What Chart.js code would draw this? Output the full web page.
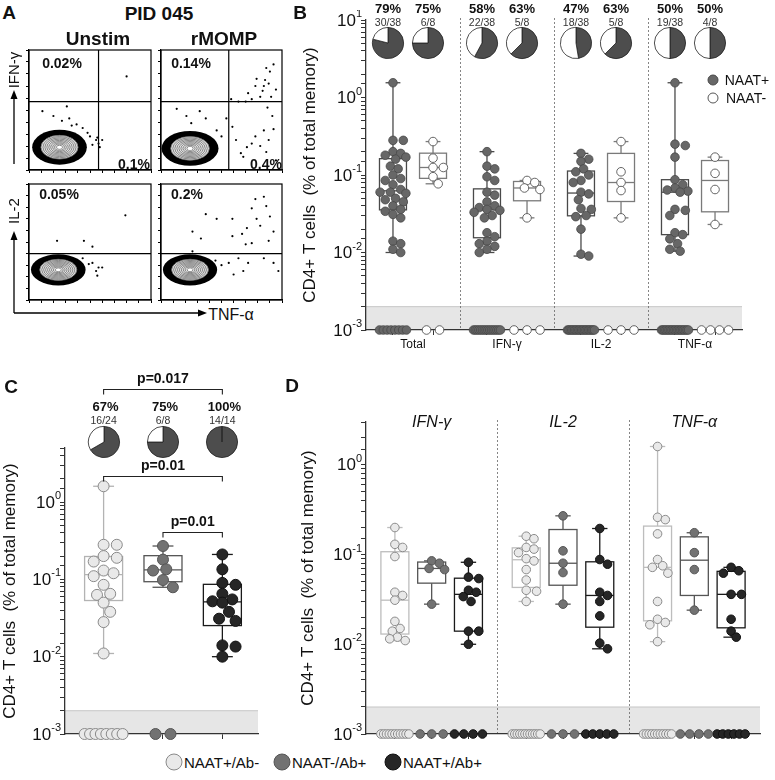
<!DOCTYPE html>
<html>
<head>
<meta charset="utf-8">
<script src="https://cdn.jsdelivr.net/npm/chart.js@4.4.1/dist/chart.umd.min.js"></script>
<style>
body { margin: 0; background: #fff; }
#fig { position: relative; width: 775px; height: 780px; overflow: hidden; font-family: 'Liberation Sans', Arial, sans-serif; color: #111; }
#fig canvas { position: absolute; }
.t { position: absolute; transform: translate(-50%, -50%); white-space: nowrap; line-height: 1; }
.dot { position: absolute; border-radius: 50%; box-sizing: border-box; transform: translate(-50%, -50%); }
</style>
</head>
<body>
<div id="fig">
<svg width="775" height="780" style="position:absolute;left:0;top:0">
  <g stroke="#000" stroke-width="1.3" fill="none">
    <line x1="14" y1="164" x2="14" y2="97"/>
    <line x1="14" y1="313" x2="14" y2="238"/>
    <line x1="14" y1="313" x2="200" y2="313"/>
  </g>
  <g fill="#000">
    <path d="M14 90 L10.5 99 L17.5 99 Z"/>
    <path d="M14 231 L10.5 240 L17.5 240 Z"/>
    <path d="M207 313 L198 309.5 L198 316.5 Z"/>
  </g>
</svg>
</div>
<script>
Chart.defaults.font.family = "'Liberation Sans', Arial, sans-serif";
Chart.defaults.color = '#111';
var fig = document.getElementById('fig');

// ---- panel A: flow plots (axes scaled 0-100)
var flowUnstimIfn = [[80,78],[11,49],[31,53],[20,45],[33,43],[35,37],[27,41],[48,31],[55,25],[57,22],[60,25],[52,21],[56,27],[44,35],[50,28],[39,38],[58,19]];
var flowMompIfn = [[13,51],[32,49],[21,45],[37,43],[25,39],[54,43],[59,36],[62,25],[71,19],[66,14],[75,22],[68,11],[46,33],[50,28],
  [58,59],[64,57],[70,57],[75,59],[79,76],[78,70],[86,75],[89,72],[85,70],[90,82],[84,66],[93,88],[82,61],[95,67],[87,85],[91,61],[72,64],
  [85,33],[89,25],[87,15],[93,34],[82,20],[95,8],[78,28],[92,45],[88,52]];
var flowUnstimIl2 = [[79,73],[23,51],[45,51],[52,46],[52,32],[57,28],[55,25],[60,28],[49,31],[56,21],[44,36],[40,33]];
var flowMompIl2 = [[26,59],[37,74],[33,53],[46,70],[59,70],[59,55],[67,57],[71,62],[75,79],[78,87],[79,70],[70,48],[75,49],[26,42],
  [85,89],[87,81],[90,72],[82,64],[93,59],[89,51],[85,36],[93,32],[97,25],[72,32],[64,36],[56,32],[68,25],[50,30],[45,34],[60,22]];
var flowDots = [flowUnstimIfn, flowMompIfn, flowUnstimIl2, flowMompIl2];
var flowBlobs = [[25,19,20,13],[24,18,21,13],[24,26,20,12],[24,26,20,12]];   // centre x, centre y, spread x, spread y
var flowGates = [[57,57],[56,57],[null,40],[null,40]];

// ---- panel B
var bCategories = ['Total', 'IFN-γ', 'IL-2', 'TNF-α'];
var bNaatPos = [
  [1.55,0.28,0.28,0.2,0.19,0.18,0.17,0.16,0.13,0.12,0.1,0.09,0.085,0.075,0.065,0.06,0.06,0.058,0.05,0.048,0.045,0.04,0.036,0.034,0.031,0.028,0.014,0.013,0.011,0.01],
  [0.2,0.13,0.12,0.095,0.085,0.06,0.055,0.045,0.04,0.038,0.036,0.035,0.033,0.03,0.028,0.018,0.016,0.014,0.013,0.012,0.011,0.01],
  [0.19,0.16,0.15,0.12,0.11,0.1,0.085,0.08,0.06,0.057,0.048,0.037,0.036,0.03,0.029,0.02,0.0095,0.009],
  [1.55,0.25,0.24,0.17,0.087,0.075,0.068,0.064,0.062,0.06,0.036,0.035,0.03,0.018,0.017,0.015,0.013,0.011,0.0104]
];
var bNaatPosZeros = [8, 16, 20, 19];
var bNaatNeg = [
  [0.27,0.165,0.125,0.125,0.095,0.077],
  [0.085,0.08,0.068,0.065,0.028],
  [0.27,0.11,0.08,0.063,0.028],
  [0.17,0.105,0.065,0.023]
];
var bNaatNegZeros = [2, 3, 3, 4];

// ---- panel C
var cGroups = ['NAAT+/Ab-', 'NAAT-/Ab+', 'NAAT+/Ab+'];
var cValues = [
  [1.6,0.28,0.28,0.2,0.19,0.17,0.13,0.12,0.11,0.085,0.065,0.063,0.05,0.038,0.028,0.011],
  [0.27,0.18,0.135,0.13,0.098,0.079],
  [0.21,0.135,0.09,0.085,0.065,0.055,0.052,0.05,0.038,0.031,0.029,0.014,0.0135,0.01]
];
var cZeros = [8, 2, 0];
var cTests = [['p=0.017', 0, 2], ['p=0.01', 0, 2], ['p=0.01', 1, 2]];
var cTestLevels = [29, 2.2, 0.41];

// ---- panel D
var dCytokines = ['IFN-γ', 'IL-2', 'TNF-α'];
var dNaatPosAbNeg = [
  [0.2,0.13,0.12,0.095,0.038,0.035,0.031,0.018,0.015,0.014,0.012,0.0115,0.011],
  [0.16,0.15,0.12,0.115,0.105,0.09,0.085,0.068,0.052,0.04,0.039,0.03],
  [1.6,0.26,0.245,0.17,0.088,0.075,0.072,0.062,0.03,0.019,0.0175,0.0165,0.0107]
];
var dNaatPosAbNegZeros = [11, 12, 11];
var dNaatNegAbPos = [
  [0.085,0.08,0.07,0.068,0.028],
  [0.27,0.11,0.08,0.063,0.028],
  [0.175,0.105,0.068,0.024]
];
var dNaatNegAbPosZeros = [3, 3, 4];
var dNaatPosAbPos = [
  [0.082,0.056,0.054,0.04,0.038,0.034,0.03,0.014,0.014,0.01],
  [0.195,0.088,0.078,0.038,0.035,0.03,0.0207,0.0103,0.0089],
  [0.072,0.066,0.062,0.036,0.036,0.019,0.014,0.012]
];
var dNaatPosAbPosZeros = [4, 5, 6];

var styles = {
  bPos:  { fill: '#676767', edge: '#474747', bw: 0.8, r: 4.3, box: '#4a4a4a', gap: 13 },
  bNeg:  { fill: '#ffffff', edge: '#555555', bw: 0.9, r: 4.3, box: '#7a7a7a', gap: 13 },
  light: { fill: '#e9e9e9', edge: '#8a8a8a', bw: 1, r: 5.5, box: '#b3b3b3', gap: 15 },
  mid:   { fill: '#727272', edge: '#555555', bw: 1, r: 5.5, box: '#555555', gap: 15 },
  dark:  { fill: '#262626', edge: '#111111', bw: 1, r: 5.5, box: '#1a1a1a', gap: 15 }
};
var yTitle = 'CD4+ T cells  (% of total memory)';

function txt(s, x, y, css) {
  var d = document.createElement('div');
  d.className = 't';
  d.textContent = s;
  d.style.left = x + 'px';
  d.style.top = y + 'px';
  if (css) d.style.cssText += css;
  fig.appendChild(d);
  return d;
}
function dot(x, y, r, fill, edge) {
  var d = document.createElement('div');
  d.className = 'dot';
  d.style.cssText += 'left:' + x + 'px;top:' + y + 'px;width:' + 2 * r + 'px;height:' + 2 * r + 'px;background:' + fill + ';border:1px solid ' + edge;
  fig.appendChild(d);
}
function makeCanvas(left, top, w, h) {
  var c = document.createElement('canvas');
  c.width = w; c.height = h;
  c.style.left = left + 'px'; c.style.top = top + 'px';
  fig.appendChild(c);
  return c;
}
function seg(ctx, x1, y1, x2, y2) {
  ctx.beginPath(); ctx.moveTo(x1, y1); ctx.lineTo(x2, y2); ctx.stroke();
}
function quant(s, p) {
  var pos = (s.length + 1) * p, lo = Math.floor(pos), f = pos - lo;
  if (lo < 1) return s[0];
  if (lo >= s.length) return s[s.length - 1];
  return s[lo - 1] + f * (s[lo] - s[lo - 1]);
}

// ---- plugins
var flowPlugin = {
  id: 'flow',
  beforeDatasetsDraw: function (chart, args, o) {
    var ctx = chart.ctx, x = chart.scales.x, y = chart.scales.y, b = o.blob;
    var cx = x.getPixelForValue(b[0]), cy = y.getPixelForValue(b[1]);
    var rx = x.getPixelForValue(b[0] + b[2]) - cx, ry = cy - y.getPixelForValue(b[1] + b[3]);
    function ell(k) { ctx.beginPath(); ctx.ellipse(cx, cy, rx * k, ry * k, 0, 0, Math.PI * 2); }
    ctx.save();
    ctx.fillStyle = '#000'; ell(1.12); ctx.fill();
    ctx.fillStyle = '#e2e2e2'; ell(0.76); ctx.fill();
    ctx.strokeStyle = '#707070'; ctx.lineWidth = 0.8;
    for (var k = 0.76; k > 0.1; k -= 0.08) { ell(k); ctx.stroke(); }
    ctx.fillStyle = '#fff'; ell(0.1); ctx.fill();
    ctx.restore();
  },
  afterDatasetsDraw: function (chart, args, o) {
    var ctx = chart.ctx, a = chart.chartArea, x = chart.scales.x, y = chart.scales.y;
    ctx.save();
    ctx.strokeStyle = '#000'; ctx.lineWidth = 1.2;
    ctx.strokeRect(a.left, a.top, a.right - a.left, a.bottom - a.top);
    if (o.gate[0] !== null) { var gx = x.getPixelForValue(o.gate[0]); seg(ctx, gx, a.top, gx, a.bottom); }
    var gy = y.getPixelForValue(o.gate[1]); seg(ctx, a.left, gy, a.right, gy);
    ctx.restore();
  }
};

var bandPlugin = {
  id: 'band',
  beforeDraw: function (chart, args, o) {
    var ctx = chart.ctx, a = chart.chartArea, x = chart.scales.x, y = chart.scales.y;
    var yb = y.getPixelForValue(y.min), yt = y.getPixelForValue(o.limit);
    ctx.save();
    ctx.fillStyle = '#e6e6e6';
    ctx.fillRect(a.left, yt, a.right - a.left, yb - yt);
    ctx.strokeStyle = '#c6c6c6'; ctx.lineWidth = 1;
    seg(ctx, a.left, yt, a.right, yt);
    ctx.strokeStyle = '#666'; ctx.lineWidth = 0.8; ctx.setLineDash([2, 2]);
    (o.separators || []).forEach(function (v) {
      var px = Math.round(x.getPixelForValue(v)) + 0.5;
      seg(ctx, px, a.top - 2, px, a.bottom);
    });
    ctx.restore();
  }
};

var boxPlugin = {
  id: 'boxes',
  beforeDatasetsDraw: function (chart) {
    var ctx = chart.ctx, x = chart.scales.x, y = chart.scales.y;
    chart.data.datasets.forEach(function (ds) {
      var s = ds.detected.slice().sort(function (a, b) { return a - b; });
      var q1 = quant(s, 0.25), med = quant(s, 0.5), q3 = quant(s, 0.75);
      var lo = s[0], hi = s[s.length - 1];
      var cx = x.getPixelForValue(ds.center);
      var hw = x.getPixelForValue(ds.center + ds.boxWidth / 2) - cx;
      var py = function (v) { return y.getPixelForValue(v); };
      var cw = hw * 0.55;
      ctx.save();
      ctx.strokeStyle = ds.boxColor; ctx.lineWidth = 1.3;
      ctx.strokeRect(cx - hw, py(q3), 2 * hw, py(q1) - py(q3));
      seg(ctx, cx - hw, py(med), cx + hw, py(med));
      seg(ctx, cx, py(q3), cx, py(hi));
      seg(ctx, cx, py(q1), cx, py(lo));
      seg(ctx, cx - cw, py(hi), cx + cw, py(hi));
      seg(ctx, cx - cw, py(lo), cx + cw, py(lo));
      ctx.restore();
    });
  }
};

var decadePlugin = {
  id: 'decades',
  afterDraw: function (chart) {
    var ctx = chart.ctx, y = chart.scales.y;
    var xr = y.right - 4;
    ctx.save();
    ctx.fillStyle = '#111'; ctx.textBaseline = 'middle'; ctx.textAlign = 'left';
    for (var e = Math.round(Math.log10(y.min)); e <= Math.floor(Math.log10(y.max) + 1e-9); e++) {
      var py = y.getPixelForValue(Math.pow(10, e));
      var exp = String(e);
      ctx.font = "11px 'Liberation Sans', Arial";
      var ew = ctx.measureText(exp).width;
      ctx.fillText(exp, xr - ew, py - 6);
      ctx.font = "17px 'Liberation Sans', Arial";
      var bw = ctx.measureText('10').width;
      ctx.fillText('10', xr - ew - bw, py + 1);
    }
    ctx.restore();
  }
};

var bracketPlugin = {
  id: 'brackets',
  afterDraw: function (chart, args, o) {
    var ctx = chart.ctx, x = chart.scales.x, y = chart.scales.y;
    ctx.save();
    ctx.strokeStyle = '#222'; ctx.lineWidth = 1.1; ctx.fillStyle = '#111';
    ctx.font = "bold 14px 'Liberation Sans', Arial";
    ctx.textAlign = 'center'; ctx.textBaseline = 'bottom';
    o.items.forEach(function (it, i) {
      var x1 = x.getPixelForValue(it[1]), x2 = x.getPixelForValue(it[2]);
      var py = Math.round(y.getPixelForValue(o.levels[i])) + 0.5;
      ctx.beginPath(); ctx.moveTo(x1, py + 5); ctx.lineTo(x1, py); ctx.lineTo(x2, py); ctx.lineTo(x2, py + 5); ctx.stroke();
      ctx.fillText(it[0], (x1 + x2) / 2, py - 3);
    });
    ctx.restore();
  }
};

function layoutPoints(chart) {
  var xs = chart.scales.x, ys = chart.scales.y;
  chart.data.datasets.forEach(function (ds) {
    var cx = xs.getPixelForValue(ds.center);
    var half = xs.getPixelForValue(ds.center + ds.boxWidth / 2) - cx;
    var r = ds.pointRadius, minD = 2 * r * 0.92, step = r * 0.6;
    var placed = [], pts = [];
    ds.detected.slice().sort(function (a, b) { return b - a; }).forEach(function (v) {
      var py = ys.getPixelForValue(v);
      var pick = 0, worst = Infinity;
      for (var k = 0; k < 200; k++) {
        var off = k === 0 ? 0 : (k % 2 ? 1 : -1) * Math.ceil(k / 2) * step;
        if (Math.abs(off) > half) break;
        var ov = 0;
        placed.forEach(function (p) {
          var d = Math.hypot(p[0] - off, p[1] - py);
          if (d < minD) ov = Math.max(ov, minD - d);
        });
        if (ov === 0) { pick = off; break; }
        if (ov < worst) { worst = ov; pick = off; }
      }
      placed.push([pick, py]);
      pts.push({ x: xs.getValueForPixel(cx + pick), y: v });
    });
    var n = ds.zeros;
    var sp = n > 1 ? Math.min(2 * half / (n - 1), ds.zeroGap) : 0;
    for (var i = 0; i < n; i++) pts.push({ x: xs.getValueForPixel(cx + (i - (n - 1) / 2) * sp), y: ys.min });
    ds.data = pts;
  });
  chart.update('none');
}

function boxSet(values, zeros, center, width, st) {
  return {
    data: [], detected: values, zeros: zeros, center: center, boxWidth: width,
    boxColor: st.box, zeroGap: st.gap, clip: false,
    pointRadius: st.r, pointHoverRadius: st.r,
    pointBackgroundColor: st.fill, pointBorderColor: st.edge, pointBorderWidth: st.bw
  };
}

function logY(min, max, width) {
  return {
    type: 'logarithmic', min: min, max: max,
    afterFit: function (s) { s.width = width; s.paddingTop = 0; s.paddingBottom = 0; },
    ticks: { autoSkip: false, callback: function () { return ''; } },
    grid: { drawOnChartArea: false, tickLength: 5, tickColor: '#333', tickWidth: 1 },
    border: { color: '#333', width: 1.3 },
    title: { display: true, text: yTitle, font: { size: 17 }, color: '#111', padding: { top: 0, bottom: 0 } }
  };
}
function linX(min, max, height, centers, labelFn, labelOffset) {
  return {
    type: 'linear', min: min, max: max,
    afterFit: function (s) { s.height = height; s.paddingLeft = 0; s.paddingRight = 0; },
    afterBuildTicks: function (s) { s.ticks = centers.map(function (v) { return { value: v }; }); },
    ticks: { autoSkip: false, maxRotation: 0, minRotation: 0, labelOffset: labelOffset || 0, padding: 2,
      font: { size: 12 }, color: '#111', callback: labelFn || function () { return ''; } },
    grid: { drawOnChartArea: false, tickLength: 5, tickColor: '#333', tickWidth: 1 },
    border: { color: '#333', width: 1.3 }
  };
}
function baseOptions(padding, xScale, yScale, extra) {
  var plugins = { legend: { display: false }, tooltip: { enabled: false } };
  for (var k in extra) plugins[k] = extra[k];
  return { responsive: false, animation: false, events: [], layout: { padding: padding },
    plugins: plugins, scales: { x: xScale, y: yScale } };
}

function pie(x, y, pos, total) {
  var c = makeCanvas(x - 17, y - 17, 34, 34);
  new Chart(c, {
    type: 'pie',
    data: { datasets: [{ data: [pos, total - pos], backgroundColor: ['#4d4d4d', '#ffffff'], borderColor: '#222', borderWidth: 0.8 }] },
    options: { responsive: false, animation: false, events: [], layout: { padding: 1 },
      plugins: { legend: { display: false }, tooltip: { enabled: false } } }
  });
}
function pct(pos, total) { return Math.round(100 * pos / total) + '%'; }

// ---- A
var flowAreas = [[29, 48, 153, 170], [161, 48, 284, 170], [29, 182, 153, 300], [161, 182, 284, 300]];
function flowAxis(horizontal) {
  return {
    type: 'linear', min: 0, max: 100,
    afterFit: function (s) {
      if (horizontal) s.height = 6; else s.width = 6;
      s.paddingLeft = s.paddingRight = s.paddingTop = s.paddingBottom = 0;
    },
    ticks: { display: false, stepSize: 10 },
    grid: { drawOnChartArea: false, tickLength: 3, tickColor: '#000' },
    border: { color: '#000', width: 1.2 }
  };
}
flowAreas.forEach(function (ar, i) {
  var c = makeCanvas(ar[0] - 6, ar[1] - 2, ar[2] - ar[0] + 8, ar[3] - ar[1] + 8);
  new Chart(c, {
    type: 'scatter',
    data: { datasets: [{ data: flowDots[i].map(function (p) { return { x: p[0], y: p[1] }; }),
      pointRadius: 1.1, pointBackgroundColor: '#000', pointBorderWidth: 0 }] },
    options: baseOptions({ top: 2, right: 2, left: 0, bottom: 0 }, flowAxis(true), flowAxis(false),
      { flow: { blob: flowBlobs[i], gate: flowGates[i] } }),
    plugins: [flowPlugin]
  });
});
txt('A', 9, 12, 'font-weight:bold;font-size:19px');
txt('PID 045', 159, 13, 'font-weight:bold;font-size:19px');
txt('Unstim', 98, 38, 'font-weight:bold;font-size:19px');
txt('rMOMP', 224, 38, 'font-weight:bold;font-size:19px');
var bold14 = 'font-weight:bold;font-size:14px';
txt('0.02%', 62, 63, bold14);
txt('0.1%', 134, 164, bold14);
txt('0.14%', 191, 63, bold14);
txt('0.4%', 266, 164, bold14);
txt('0.05%', 59, 194, bold14);
txt('0.2%', 187, 194, bold14);
txt('IFN-γ', 13, 70, 'font-size:15px;transform:translate(-50%,-50%) rotate(-90deg)');
txt('IL-2', 13, 211, 'font-size:15px;transform:translate(-50%,-50%) rotate(-90deg)');
txt('TNF-α', 231, 315, 'font-size:16px');

// ---- B
var bLeft = 300, bTop = 10;
var bSets = [], bCenters = [];
bCategories.forEach(function (c, i) {
  bSets.push(boxSet(bNaatPos[i], bNaatPosZeros[i], i + 0.5 - 0.213, 0.287, styles.bPos));
  bSets.push(boxSet(bNaatNeg[i], bNaatNegZeros[i], i + 0.5 + 0.213, 0.287, styles.bNeg));
  bCenters.push(i + 0.5 - 0.213, i + 0.5 + 0.213);
});
var bChart = new Chart(makeCanvas(bLeft, bTop, 460, 360), {
  type: 'scatter',
  data: { datasets: bSets },
  options: baseOptions({ top: 10, right: 18, left: 0, bottom: 0 },
    linX(0, 4, 40, bCenters, function (v, i) { return i % 2 === 0 ? bCategories[i / 2] : ''; }, 20),
    logY(0.001, 10, 66),
    { band: { limit: 0.002, separators: [1, 2, 3] } }),
  plugins: [bandPlugin, boxPlugin, decadePlugin]
});
layoutPoints(bChart);
bSets.forEach(function (ds) {
  var px = bLeft + bChart.scales.x.getPixelForValue(ds.center) - 5;
  var n = ds.detected.length, tot = n + ds.zeros;
  pie(px, 43, n, tot);
  txt(pct(n, tot), px, 8, 'font-weight:bold;font-size:13px');
  txt(n + '/' + tot, px, 22, 'font-size:10.5px;color:#333');
});
txt('B', 300, 12, 'font-weight:bold;font-size:19px');
dot(713, 80, 5.5, styles.bPos.fill, styles.bPos.edge);
txt('NAAT+', 747, 80, 'font-size:14px');
dot(713, 98, 5.5, styles.bNeg.fill, styles.bNeg.edge);
txt('NAAT-', 746, 98, 'font-size:14px');

// ---- C
var cLeft = 0, cTop = 360;
var cStyles = [styles.light, styles.mid, styles.dark];
var cSets = cGroups.map(function (g, i) { return boxSet(cValues[i], cZeros[i], i, 0.64, cStyles[i]); });
var cChart = new Chart(makeCanvas(cLeft, cTop, 265, 390), {
  type: 'scatter',
  data: { datasets: cSets },
  options: baseOptions({ top: 88, right: 7, left: 0, bottom: 0 },
    linX(-0.65, 2.6, 16, [0, 1, 2]),
    logY(0.001, 5, 65),
    { band: { limit: 0.002 }, brackets: { items: cTests, levels: cTestLevels } }),
  plugins: [bandPlugin, boxPlugin, decadePlugin, bracketPlugin]
});
layoutPoints(cChart);
cSets.forEach(function (ds) {
  var px = cLeft + cChart.scales.x.getPixelForValue(ds.center);
  var n = ds.detected.length, tot = n + ds.zeros;
  pie(px, 442, n, tot);
  txt(pct(n, tot), px + 2, 406, 'font-weight:bold;font-size:13px');
  txt(n + '/' + tot, px, 420, 'font-size:10.5px;color:#333');
});
txt('C', 11, 386, 'font-weight:bold;font-size:19px');

// ---- D
var dLeft = 298, dTop = 410;
var dSets = [], dCenters = [];
dCytokines.forEach(function (c, g) {
  dSets.push(boxSet(dNaatPosAbNeg[g], dNaatPosAbNegZeros[g], g + 0.5 - 0.28, 0.213, Object.assign({}, styles.light, { r: 4.3, gap: 11.5, box: '#bdbdbd' })));
  dSets.push(boxSet(dNaatNegAbPos[g], dNaatNegAbPosZeros[g], g + 0.5, 0.213, Object.assign({}, styles.mid, { r: 4.3, gap: 11.5 })));
  dSets.push(boxSet(dNaatPosAbPos[g], dNaatPosAbPosZeros[g], g + 0.5 + 0.28, 0.213, Object.assign({}, styles.dark, { r: 4.3, gap: 11.5 })));
  dCenters.push(g + 0.5 - 0.28, g + 0.5, g + 0.5 + 0.28);
});
var dChart = new Chart(makeCanvas(dLeft, dTop, 472, 340), {
  type: 'scatter',
  data: { datasets: dSets },
  options: baseOptions({ top: 12, right: 10, left: 0, bottom: 0 },
    linX(0, 3, 16, dCenters),
    logY(0.001, 3, 68),
    { band: { limit: 0.002, separators: [1, 2] } }),
  plugins: [bandPlugin, boxPlugin, decadePlugin]
});
layoutPoints(dChart);
dCytokines.forEach(function (c, g) {
  txt(c, dLeft + dChart.scales.x.getPixelForValue(g + 0.5), 422, 'font-style:italic;font-size:16px');
});
txt('D', 292, 385, 'font-weight:bold;font-size:19px');

// ---- shared legend
var legendX = [174, 282, 393];
cGroups.forEach(function (g, i) {
  dot(legendX[i], 762, 8.5, cStyles[i].fill, cStyles[i].edge);
  var t = txt(g, legendX[i] + 10, 762, 'font-size:15px');
  t.style.transform = 'translate(0,-50%)';
});
</script>
</body>
</html>
